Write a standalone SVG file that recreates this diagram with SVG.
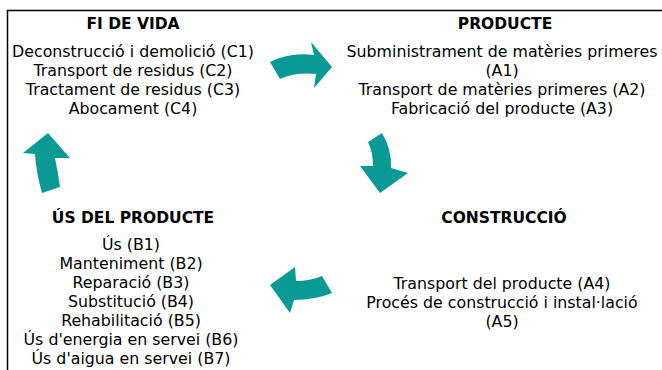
<svg xmlns="http://www.w3.org/2000/svg" width="662" height="370" viewBox="0 0 662 370">
<style>
text{font-family:"DejaVu Sans","Verdana",sans-serif;font-size:15.8px;fill:#000;text-anchor:middle}
.t{font-weight:bold;font-size:15.5px}
.arrow{fill:#0a9a96}
</style>
<rect width="662" height="370" fill="#fff"/>
<g id="frame"><path d="M7.5 370 V10.5 H662" fill="none" stroke="#000" stroke-width="1.5"/></g>
<g id="fi-de-vida">
<text class="t" x="133" y="29">FI DE VIDA</text>
<text x="133" y="57">Deconstrucció i demolició (C1)</text>
<text x="133" y="76">Transport de residus (C2)</text>
<text x="133" y="95">Tractament de residus (C3)</text>
<text x="133" y="114">Abocament (C4)</text>
</g>
<g id="producte">
<text class="t" x="505" y="29">PRODUCTE</text>
<text x="502" y="57">Subministrament de matèries primeres</text>
<text x="502" y="76">(A1)</text>
<text x="502" y="95">Transport de matèries primeres (A2)</text>
<text x="502" y="114">Fabricació del producte (A3)</text>
</g>
<g id="construccio">
<text class="t" x="504" y="223">CONSTRUCCIÓ</text>
<text x="502" y="289">Transport del producte (A4)</text>
<text x="502" y="308">Procés de construcció i instal·lació</text>
<text x="502" y="327">(A5)</text>
</g>
<g id="us-del-producte">
<text class="t" x="133" y="223">ÚS DEL PRODUCTE</text>
<text x="131" y="250">Ús (B1)</text>
<text x="131" y="269">Manteniment (B2)</text>
<text x="131" y="288">Reparació (B3)</text>
<text x="131" y="307">Substitució (B4)</text>
<text x="131" y="326">Rehabilitació (B5)</text>
<text x="131" y="345">Ús d'energia en servei (B6)</text>
<text x="131" y="364">Ús d'aigua en servei (B7)</text>
</g>
<g id="connectors">
<path class="arrow" d="M270 62 Q290 52 314 55 L311 42 L332 67 L314 88 L316 74 Q296 72 280 79 Z"/>
<path class="arrow" d="M368 142 L382 133 Q392 150 391 168 L408 173 L380 193 L360 166 L373 166 Q373 152 368 142 Z"/>
<path class="arrow" d="M270 285 L295 267 L296 281 Q310 281 322 276 L332 293 Q315 300 294 300 L290 313 Z"/>
<path class="arrow" d="M48 133 L70 158 L55 158 Q58 172 60 187 L42 193 Q36 172 35 154 L23 153 Z"/>
</g>
</svg>
